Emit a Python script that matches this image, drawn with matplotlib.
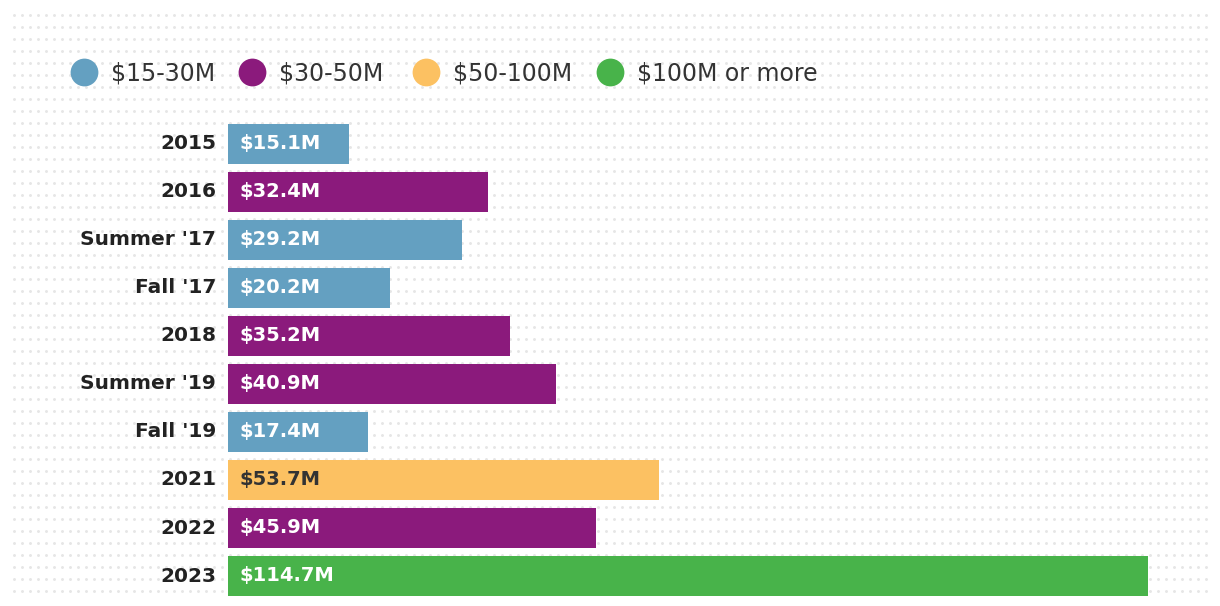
import numpy as np
import matplotlib
matplotlib.use("Agg")
import matplotlib.pyplot as plt

# data
periods = ["2015", "2016", "Summer '17", "Fall '17", "2018", "Summer '19",
           "Fall '19", "2021", "2022", "2023"]
amounts = [15.1, 32.4, 29.2, 20.2, 35.2, 40.9, 17.4, 53.7, 45.9, 114.7]
brackets = ["$15-30M", "$30-50M", "$50-100M", "$100M or more"]
bracket_colors = ["#64a0c1", "#8b1a7c", "#fcc162", "#48b34a"]
bracket_edges = [15, 30, 50, 100]

def bracket_of(v):
    idx = 0
    for i, lo in enumerate(bracket_edges):
        if v >= lo:
            idx = i
    return idx

W, H = 1220, 606
fig = plt.figure(figsize=(W / 100, H / 100), dpi=100)

# background dots, pixel coords
bg = fig.add_axes([0, 0, 1, 1])
bg.set_xlim(0, W)
bg.set_ylim(H, 0)
bg.axis("off")
gx, gy = np.meshgrid(np.arange(14, 1210, 8), np.arange(15, 596, 12))
bg.scatter(gx.ravel(), gy.ravel(), s=4.5, color="#e6e6e6", linewidths=0, zorder=0)

# legend
leg_x = [84, 252, 426, 610]
for x, lab, c in zip(leg_x, brackets, bracket_colors):
    bg.scatter([x], [72], s=400, color=c, linewidths=0, zorder=2)
    bg.text(x + 27, 73, lab, fontsize=17, color="#333333", va="center",
            ha="left", family=["DejaVu Sans"], fontweight="normal", zorder=3)

# bars
ax = fig.add_axes([228 / W, 6 / H, (1148 - 228) / W, 480 / H])
ax.set_xlim(0, 114.7)
ax.set_ylim(len(periods) - 0.5, -0.5)
ax.axis("off")
ypos = np.arange(len(periods))
cols = [bracket_colors[bracket_of(v)] for v in amounts]
ax.barh(ypos, amounts, height=40 / 48, color=cols, zorder=2)

for y, v, p, c in zip(ypos, amounts, periods, cols):
    tc = "#333333" if c == bracket_colors[2] else "white"
    ax.text(1.4, y, f"${v}M", color=tc, fontsize=14, fontweight="bold",
            va="center", ha="left", family=["DejaVu Sans"], zorder=3)
    ax.annotate(p, xy=(0, y), xytext=(-12, 0), textcoords="offset pixels",
                ha="right", va="center", fontsize=14.5, fontweight="bold",
                color="#222222", family=["DejaVu Sans"],
                annotation_clip=False)

fig.savefig("out.png", dpi=100, facecolor="white")
